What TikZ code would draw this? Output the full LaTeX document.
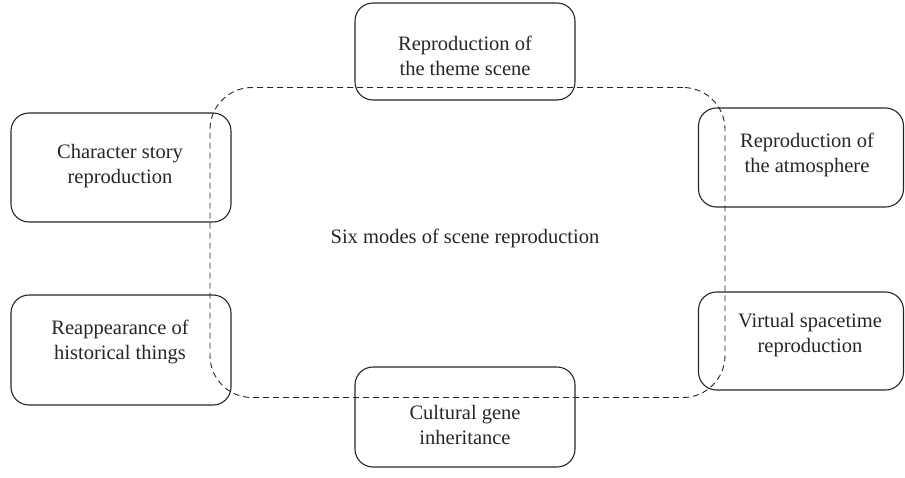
\documentclass[tikz,border=0pt]{standalone}
\usepackage{fontspec}
\setmainfont{Liberation Serif}
\begin{document}
\begin{tikzpicture}[x=1pt,y=-1pt,
  box/.style={draw=black!85, line width=1.1pt, rounded corners=18pt, inner sep=0pt},
  txt/.style={align=center, font=\fontsize{20.5}{24.5}\selectfont, text=black!85, inner sep=0pt},
  ring/.style={draw=black!85, line width=0.9pt, dash pattern=on 6pt off 4pt, rounded corners=42pt}]
\useasboundingbox (0,0) rectangle (905,477);
\node[ring, minimum width=515pt, minimum height=310pt] (ring) at (467.5,242.5) {};
\node[txt] (center) at (465,238) {Six modes of scene reproduction};
\node[box, minimum width=220pt, minimum height=97pt] (top) at (465,51.5) {};
\node[box, minimum width=220pt, minimum height=109pt] (lt) at (121,167.5) {};
\node[box, minimum width=205pt, minimum height=99pt] (rt) at (801,157.5) {};
\node[box, minimum width=220pt, minimum height=110pt] (lb) at (121,350) {};
\node[box, minimum width=205pt, minimum height=98pt] (rb) at (801,341) {};
\node[box, minimum width=220pt, minimum height=100pt] (bot) at (465,417) {};
\node[txt] (toptxt) at (465,56) {Reproduction of\\the theme scene};
\node[txt] (lttxt) at (120,166) {Character story\\reproduction};
\node[txt] (rttxt) at (807,155) {Reproduction of\\the atmosphere};
\node[txt] (lbtxt) at (120,342) {Reappearance of\\historical things};
\node[txt] (rbtxt) at (810,335) {Virtual spacetime\\reproduction};
\node[txt] (bottxt) at (465,425) {Cultural gene\\inheritance};
\end{tikzpicture}
\end{document}
